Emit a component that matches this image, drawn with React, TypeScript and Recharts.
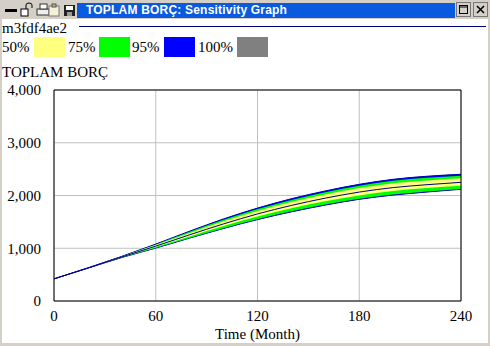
import { ComposedChart, Area, Line, XAxis, YAxis, CartesianGrid, ReferenceLine } from "recharts";

const months = [0, 20, 40, 60, 80, 100, 120, 140, 160, 180, 200, 220, 240];
const center = [420, 625, 835, 1040, 1255, 1462, 1650, 1812, 1950, 2065, 2150, 2205, 2250];
const grayHigh = [420, 628, 847, 1080, 1327, 1559, 1765, 1942, 2090, 2215, 2310, 2368, 2405];
const grayLow = [420, 622, 824, 1002, 1189, 1372, 1540, 1687, 1815, 1925, 2005, 2063, 2115];
const blueHigh = [420, 628, 847, 1079, 1324, 1556, 1762, 1939, 2087, 2212, 2307, 2365, 2402];
const blueLow = [420, 622, 824, 1003, 1192, 1375, 1543, 1690, 1818, 1928, 2008, 2066, 2118];
const greenHigh = [420, 627, 845, 1072, 1313, 1540, 1742, 1916, 2062, 2185, 2278, 2335, 2374];
const greenLow = [420, 622, 825, 1006, 1196, 1381, 1551, 1700, 1828, 1939, 2020, 2077, 2125];
const yellowHigh = [420, 627, 841, 1060, 1291, 1510, 1708, 1877, 2020, 2140, 2230, 2286, 2328];
const yellowLow = [420, 624, 830, 1023, 1225, 1422, 1600, 1756, 1889, 2002, 2085, 2141, 2183];

const xTicks = [0, 60, 120, 180, 240];
const yTicks = [0, 1000, 2000, 3000, 4000];
const legendNames = ["50%", "75%", "95%", "100%"];
const legendColors = ["#ffff80", "#00ff00", "#0000ff", "#808080"];
const legendLeft = [34, 99, 164, 237];
const legendTextLeft = [2, 68, 132, 198];

const data = months.map((m, i) => ({
  month: m,
  center: center[i],
  gray: [grayLow[i], grayHigh[i]],
  blue: [blueLow[i], blueHigh[i]],
  green: [greenLow[i], greenHigh[i]],
  yellow: [yellowLow[i], yellowHigh[i]],
}));

const serif = '"Liberation Serif", "Times New Roman", serif';
const chrome = "#d4d0c8";

function Toolbar() {
  return (
    <svg width={77} height={18} style={{ position: "absolute", left: 0, top: 0 }}>
      <rect x={5} y={9} width={12} height={3} fill="#000" />
      <rect x={21} y={9} width={7} height={7} fill="#fff" stroke="#000" />
      <path d="M26 9 V5 Q26 3 29 3 Q32 3 32 5 V8" fill="none" stroke="#000" />
      <rect x={37} y={9} width={12} height={6} fill="#eee" stroke="#333" />
      <rect x={40} y={4} width={7} height={5} fill="#fff" stroke="#333" />
      <rect x={49} y={6} width={10} height={10} fill="#f5f1d8" stroke="#777" />
      <rect x={52} y={4} width={4} height={3} fill="#b9b08a" stroke="#555" />
      <rect x={64} y={5} width={11} height={11} fill="#222" />
      <rect x={66} y={6} width={7} height={4} fill="#fff" />
      <rect x={67} y={12} width={5} height={4} fill="#999" />
    </svg>
  );
}

export default function App() {
  return (
    <div
      style={{
        position: "fixed",
        left: 0,
        top: 0,
        width: 490,
        height: 346,
        overflow: "hidden",
        background: "#fff",
        fontFamily: serif,
        fontSize: 15,
        color: "#000",
      }}
    >
      <div style={{ position: "absolute", left: 0, top: 0, width: 490, height: 19, background: chrome }} />
      <div style={{ position: "absolute", left: 0, top: 0, width: 2, height: 346, background: chrome }} />
      <div style={{ position: "absolute", right: 0, top: 0, width: 2, height: 346, background: chrome }} />
      <div style={{ position: "absolute", left: 0, top: 343, width: 490, height: 3, background: chrome }} />
      <Toolbar />
      <div
        style={{
          position: "absolute",
          left: 77,
          top: 3,
          width: 378,
          height: 15,
          background: "#0a5adf",
          color: "#fff",
          fontFamily: '"Liberation Sans", Arial, sans-serif',
          fontWeight: 700,
          fontSize: 12,
          lineHeight: "15px",
          paddingLeft: 9,
          boxSizing: "border-box",
          letterSpacing: 0.2,
        }}
      >
        TOPLAM BORÇ: Sensitivity Graph
      </div>
      <svg width={34} height={16} style={{ position: "absolute", left: 456, top: 2 }}>
        <rect x={0.5} y={0.5} width={14} height={14} fill={chrome} stroke="#777" />
        <rect x={3.5} y={3.5} width={8} height={8} fill="none" stroke="#000" />
        <rect x={3.5} y={4.5} width={8} height={1} fill="#000" />
        <rect x={17.5} y={0.5} width={14} height={14} fill={chrome} stroke="#777" />
        <path d="M21 4 L28 11 M28 4 L21 11" stroke="#000" strokeWidth={1.6} />
      </svg>
      <div style={{ position: "absolute", left: 79, top: 26, width: 407, height: 1, background: "#000080" }} />
      <div style={{ position: "absolute", left: 2, top: 20, lineHeight: "16px" }}>m3fdf4ae2</div>
      {legendNames.map((name, i) => (
        <div key={name}>
          <div style={{ position: "absolute", left: legendTextLeft[i], top: 39, lineHeight: "16px" }}>{name}</div>
          <div
            style={{
              position: "absolute",
              left: legendLeft[i],
              top: 37,
              width: 31,
              height: 20,
              background: legendColors[i],
            }}
          />
        </div>
      ))}
      <div style={{ position: "absolute", left: 2, top: 64, lineHeight: "16px" }}>TOPLAM BORÇ</div>
      <div style={{ position: "absolute", left: 0, top: 0 }}>
        <ComposedChart
          width={490}
          height={346}
          data={data}
          margin={{ top: 90, right: 29, bottom: 0, left: 0 }}
        >
          <CartesianGrid stroke="#c0c0c0" strokeWidth={1} />
          <XAxis
            dataKey="month"
            type="number"
            domain={[0, 240]}
            ticks={xTicks}
            height={45}
            interval={0}
            tickLine={false}
            axisLine={{ stroke: "#000", strokeWidth: 1 }}
            tick={{ fill: "#000", fontSize: 15, fontFamily: serif }}
            tickMargin={3}
            label={{
              value: "Time (Month)",
              position: "insideBottom",
              offset: 7,
              fill: "#000",
              fontSize: 15,
              fontFamily: serif,
            }}
          />
          <YAxis
            type="number"
            domain={[0, 4000]}
            ticks={yTicks}
            width={54}
            interval={0}
            tickLine={false}
            axisLine={{ stroke: "#000", strokeWidth: 1 }}
            tick={{ fill: "#000", fontSize: 15, fontFamily: serif }}
            tickMargin={7}
            tickFormatter={(v: number) => v.toLocaleString("en-US")}
          />
          <Area type="monotone" dataKey="gray" fill="#808080" fillOpacity={1} stroke="none" isAnimationActive={false} dot={false} activeDot={false} />
          <Area type="monotone" dataKey="blue" fill="#0000ff" fillOpacity={1} stroke="#0000c0" strokeWidth={1} isAnimationActive={false} dot={false} activeDot={false} />
          <Area type="monotone" dataKey="green" fill="#00ff00" fillOpacity={1} stroke="none" isAnimationActive={false} dot={false} activeDot={false} />
          <Area type="monotone" dataKey="yellow" fill="#ffff80" fillOpacity={1} stroke="none" isAnimationActive={false} dot={false} activeDot={false} />
          <Line type="monotone" dataKey="center" stroke="#000080" strokeWidth={1} dot={false} activeDot={false} isAnimationActive={false} />
          <ReferenceLine x={240} stroke="#000" strokeWidth={1} />
          <ReferenceLine y={4000} stroke="#000" strokeWidth={1} />
        </ComposedChart>
      </div>
    </div>
  );
}
